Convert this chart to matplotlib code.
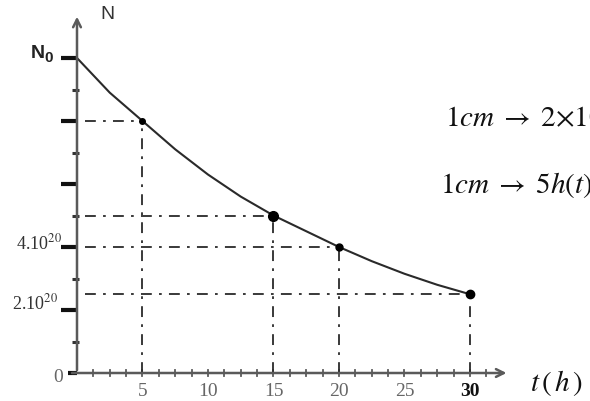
import matplotlib
matplotlib.use('Agg')
import matplotlib.pyplot as plt

# decay curve (N in units of 1e20, t in hours)
t_curve = [0, 2.5, 5, 7.5, 10, 12.5, 15, 17.5, 20, 22.5, 25, 27.5, 30]
N_curve = [10, 8.9, 8.0, 7.1, 6.3, 5.6, 5.0, 4.5, 4.0, 3.55, 3.15, 2.8, 2.5]

# points picked out with dashed guide lines
t_marks = [5, 15, 20, 30]
N_marks = [8, 5, 4, 2.5]
mark_sizes = [4, 7, 5, 6]

x_ticks = [5, 10, 15, 20, 25, 30]
y_labels = {4: '4.10$^{20}$', 2: '2.10$^{20}$'}

plt.rcParams['mathtext.fontset'] = 'stix'
ink = '#2a2a2a'
axis_col = '#5a5a5a'

fig = plt.figure(figsize=(5.9, 4.01), dpi=100)
ax = fig.add_axes([0, 0, 1, 1])
ax.axis('off')
ax.set_xlim(-77 / 13.1, (590 - 77) / 13.1)
ax.set_ylim(-(401 - 373) / 31.5, 373 / 31.5)

# axes with arrows
ax.annotate('', xy=(0, 11.4), xytext=(0, 0),
            arrowprops=dict(arrowstyle='->', color=axis_col, lw=1.8, mutation_scale=14))
ax.annotate('', xy=(33.0, 0), xytext=(-0.6, 0),
            arrowprops=dict(arrowstyle='->', color=axis_col, lw=1.8, mutation_scale=14))

# y ticks: bold ones at even values, small ones at odd values
for n in range(1, 11):
    if n % 2 == 0:
        ax.plot([-1.2, 0], [n, n], color='#111111', lw=3, solid_capstyle='butt')
    else:
        ax.plot([-0.35, 0.15], [n, n], color='#333333', lw=2.2, solid_capstyle='butt')
ax.plot([-0.7, 0], [0, 0], color='#111111', lw=3, solid_capstyle='butt')

# x minor ticks
k = 1
while k * 1.25 < 32.5:
    ax.plot([k * 1.25, k * 1.25], [-0.1, 0.1], color=axis_col, lw=1.3)
    k += 1

# dashed guides
for t, n in zip(t_marks, N_marks):
    ax.plot([0.6, t], [n, n], color=ink, lw=1.3, linestyle=(0, (6, 4, 1.5, 4)))
    ax.plot([t, t], [0, n], color=ink, lw=1.3, linestyle=(0, (6, 4, 1.5, 4)))

# the curve and its marked points
ax.plot(t_curve, N_curve, color=ink, lw=1.5)
for t, n, s in zip(t_marks, N_marks, mark_sizes):
    ax.plot(t, n, 'o', color='black', markersize=s)

# labels
ax.text(2.3, 11.37, 'N', fontsize=14, family='Liberation Sans', color='#333333',
        ha='center', va='center')
ax.text(-2.45, 10.15, 'N', fontsize=14, family='Liberation Sans', weight='bold',
        color='#222222', ha='right', va='center')
ax.text(-2.5, 10.0, '0', fontsize=11, family='Liberation Sans', weight='bold',
        color='#222222', ha='left', va='center')
ax.text(-1.15, 4.1, y_labels[4], fontsize=13, family='Liberation Serif',
        color='#333333', ha='right', va='center')
ax.text(-1.45, 2.2, y_labels[2], fontsize=13, family='Liberation Serif',
        color='#333333', ha='right', va='center')
ax.text(-1.45, -0.15, '0', fontsize=14, family='Liberation Serif',
        color='#666666', ha='center', va='center')
for t in x_ticks:
    ax.text(t, -0.6, str(t), fontsize=14, family='Liberation Serif',
            color='#111111' if t == 30 else '#666666',
            weight='bold' if t == 30 else 'normal', ha='center', va='center')

fig.text(445 / 590, 1 - 127 / 401, r'$1cm\;\rightarrow\;2{\times}10^{20}$',
         fontsize=21, color='#111111', va='baseline', ha='left')
fig.text(440 / 590, 1 - 193 / 401, r'$1cm\;\rightarrow\;5h\left(t\right)$',
         fontsize=21, color='#111111', va='baseline', ha='left')
fig.text(530 / 590, 1 - 391 / 401, r'$t\,\left(\,h\,\right)$',
         fontsize=21, color='#111111', va='baseline', ha='left')

fig.savefig('out.png', dpi=100, facecolor='white')
